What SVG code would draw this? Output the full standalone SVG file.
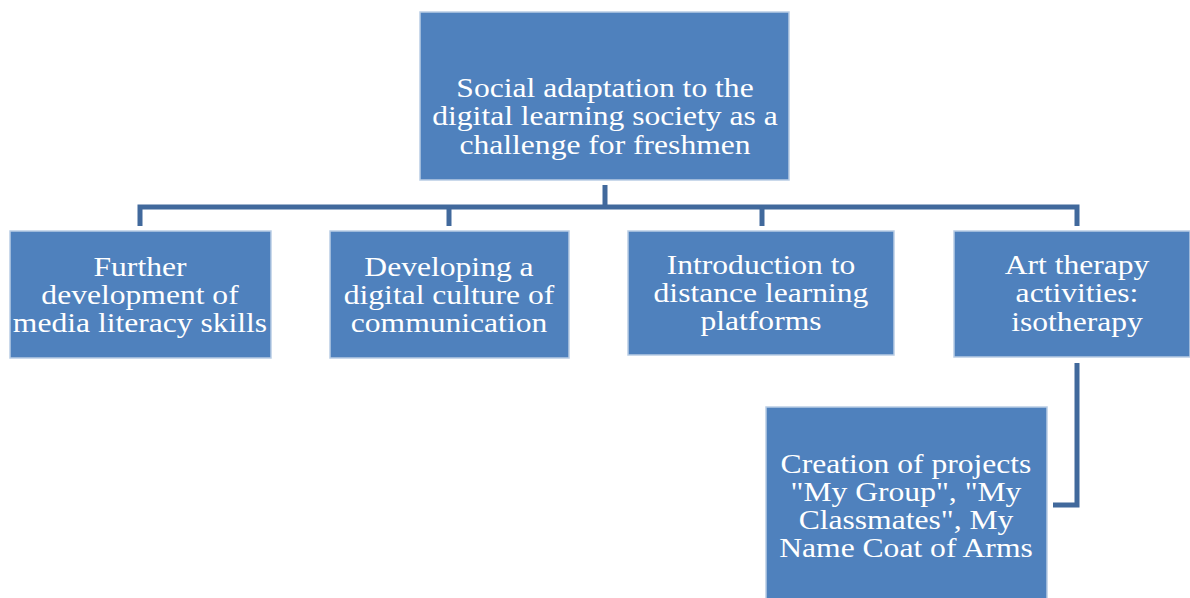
<svg xmlns="http://www.w3.org/2000/svg" width="1190" height="598" viewBox="0 0 1190 598">
<style>
.box{fill:#4f81bd;stroke:#b9cde5;stroke-width:1.5}
.t{font-family:"Liberation Serif","Times New Roman",serif;font-size:27px;fill:#ffffff;text-anchor:middle}
.c{fill:none;stroke:#41699c;stroke-width:5;stroke-linejoin:miter}
</style>
<rect width="1190" height="598" fill="#ffffff"/>
<g id="connectors">
<path class="c" d="M605 185V207"/>
<path class="c" d="M140 226V207H1077V226"/>
<path class="c" d="M449 207V226"/>
<path class="c" d="M762 207V226"/>
<path class="c" d="M1077 363V505H1053"/>
</g>
<g id="root">
<rect class="box" x="420" y="12" width="369" height="168"/>
<g transform="translate(605,0) scale(1.17,1)">
<text class="t" x="0" y="97">Social adaptation to the</text>
<text class="t" x="0" y="125">digital learning society as a</text>
<text class="t" x="0" y="154">challenge for freshmen</text>
</g>
</g>
<g id="media">
<rect class="box" x="10" y="231" width="261" height="127"/>
<g transform="translate(140,0) scale(1.17,1)">
<text class="t" x="0" y="276">Further</text>
<text class="t" x="0" y="304">development of</text>
<text class="t" x="0" y="332">media literacy skills</text>
</g>
</g>
<g id="culture">
<rect class="box" x="330" y="231" width="239" height="127"/>
<g transform="translate(449,0) scale(1.17,1)">
<text class="t" x="0" y="276">Developing a</text>
<text class="t" x="0" y="304">digital culture of</text>
<text class="t" x="0" y="332">communication</text>
</g>
</g>
<g id="platforms">
<rect class="box" x="628" y="231" width="266" height="124"/>
<g transform="translate(761,0) scale(1.17,1)">
<text class="t" x="0" y="274">Introduction to</text>
<text class="t" x="0" y="302">distance learning</text>
<text class="t" x="0" y="330">platforms</text>
</g>
</g>
<g id="art">
<rect class="box" x="954" y="231" width="236" height="126"/>
<g transform="translate(1077,0) scale(1.17,1)">
<text class="t" x="0" y="274">Art therapy</text>
<text class="t" x="0" y="302">activities:</text>
<text class="t" x="0" y="331">isotherapy</text>
</g>
</g>
<g id="projects">
<rect class="box" x="766" y="407" width="281" height="195"/>
<g transform="translate(906,0) scale(1.17,1)">
<text class="t" x="0" y="473">Creation of projects</text>
<text class="t" x="0" y="501">"My Group", "My</text>
<text class="t" x="0" y="529">Classmates", My</text>
<text class="t" x="0" y="557">Name Coat of Arms</text>
</g>
</g>
</svg>
